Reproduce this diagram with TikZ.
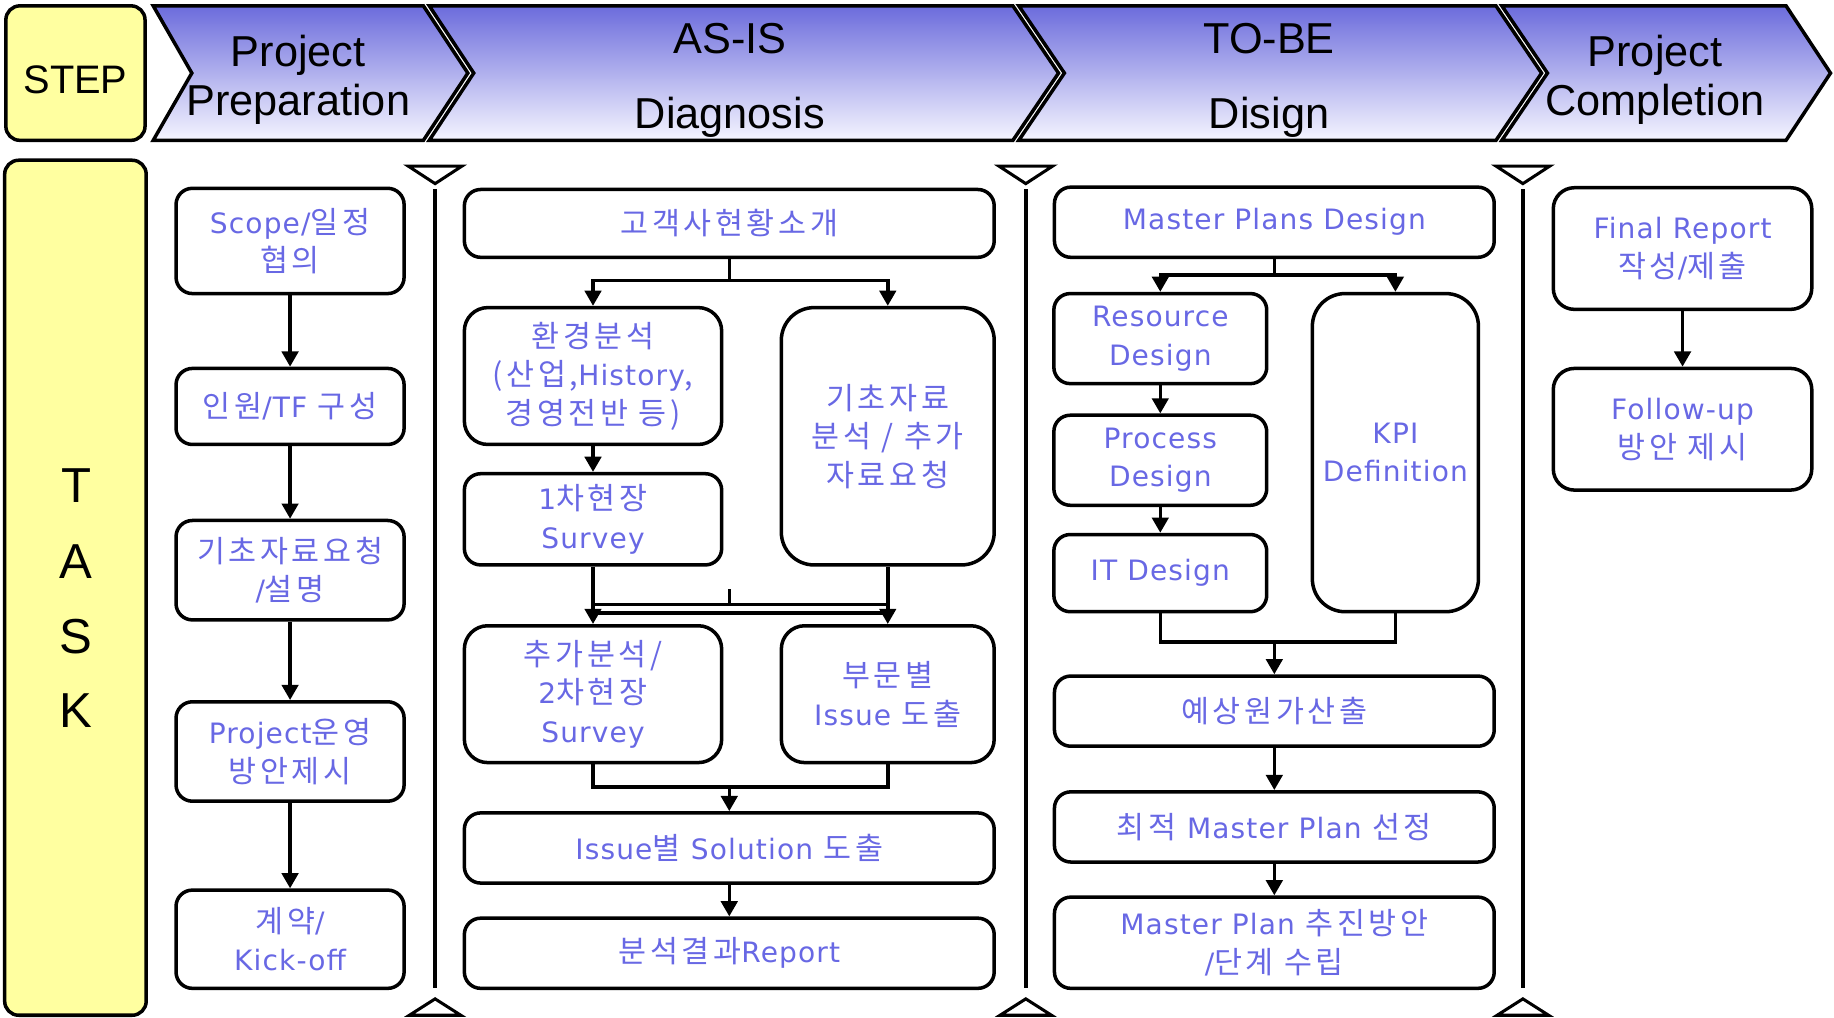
\documentclass[tikz,border=0pt]{standalone}
\usepackage{fontspec}
\setmainfont{Liberation Sans}
\newfontfamily\krf[LetterSpace=12]{Noto Sans CJK KR}
\newfontfamily\ltf[LetterSpace=4]{DejaVu Sans}
\newcommand{\lt}[1]{{\ltf\fontsize{12}{16.5}\selectfont #1}}
\usetikzlibrary{arrows.meta}
\definecolor{txtblue}{RGB}{104,104,228}
\definecolor{hdrtop}{RGB}{108,108,220}
\definecolor{hdrbot}{RGB}{245,245,255}
\definecolor{ylw}{RGB}{255,255,160}
\begin{document}
\begin{tikzpicture}[x=0.5pt,y=-0.5pt,
  box/.style={draw, line width=1.5pt, rounded corners=7pt, align=center, text=txtblue, inner sep=0pt, font=\krf\fontsize{13}{16.5}\selectfont},
  boxl/.style={box, font=\ltf\fontsize{12}{16.5}\selectfont},
  arr/.style={line width=1.5pt, -{Triangle[width=7pt,length=6.5pt]}},
  ln/.style={line width=1.5pt},
  hdr/.style={draw, line width=1.5pt, top color=hdrtop, bottom color=hdrbot},
  hdrtxt/.style={font=\fontsize{18.5}{22}\selectfont, inner sep=0pt, anchor=base},
  tasktxt/.style={font=\fontsize{21}{24}\selectfont, inner sep=0pt, anchor=base},
  sepline/.style={line width=1.5pt},
  septri/.style={line width=1.3pt, fill=white},
  side/.style={draw, line width=1.5pt, fill=ylw, rounded corners=6pt, inner sep=0pt}
]
\useasboundingbox (0,0) rectangle (1568,870);

% ---------- header ----------
\node[side, minimum width=59.5pt, minimum height=57.5pt] (stepbox) at (64.5,62.5) {};
\node[font=\fontsize{17}{20}\selectfont, inner sep=0pt] (steptxt) at (64.5,68) {STEP};

\path[hdr] (131,5) -- (362,5) -- (400,62.5) -- (362,120) -- (131,120) -- (164,62.5) -- cycle;
\path[hdr] (367,5) -- (866,5) -- (905,62.5) -- (866,120) -- (367,120) -- (405,62.5) -- cycle;
\path[hdr] (871,5) -- (1279,5) -- (1318,62.5) -- (1279,120) -- (871,120) -- (910,62.5) -- cycle;
\path[hdr] (1284,5) -- (1527,5) -- (1565,62.5) -- (1527,120) -- (1284,120) -- (1323,62.5) -- cycle;

\node[hdrtxt] (h1a) at (255,57) {Project};
\node[hdrtxt] (h1b) at (255,99) {Preparation};
\node[hdrtxt] (h2a) at (624,46) {AS-IS};
\node[hdrtxt] (h2b) at (624,110) {Diagnosis};
\node[hdrtxt] (h3a) at (1085,46) {TO-BE};
\node[hdrtxt] (h3b) at (1085,110) {Disign};
\node[hdrtxt] (h4a) at (1415,57) {Project};
\node[hdrtxt] (h4b) at (1415,99) {Completion};

% ---------- task side ----------
\node[side, minimum width=60.5pt, minimum height=365.5pt] (taskbox) at (64.5,502.5) {};
\node[tasktxt] (tT) at (65,430) {T};
\node[tasktxt] (tA) at (65,495) {A};
\node[tasktxt] (tS) at (65,559) {S};
\node[tasktxt] (tK) at (65,622) {K};

% ---------- separators ----------
\foreach \sx in {372,877,1302} {
  \draw[septri] (\sx-23,142) -- (\sx+23,142) -- (\sx,157) -- cycle;
  \draw[sepline] (\sx,162) -- (\sx,845);
  \draw[septri] (\sx,854) -- (\sx+22,868) -- (\sx-22,868) -- cycle;
}

% ---------- column 1 ----------
\node[box, minimum width=97.5pt, minimum height=45pt] (c1a) at (248,206) {\lt{Scope/}일정\\협의};
\node[box, minimum width=97.5pt, minimum height=32.5pt] (c1b) at (248,347.5) {인원\lt{/TF} 구성};
\node[box, minimum width=97.5pt, minimum height=42.5pt] (c1c) at (248,487.5) {기초자료요청\\\lt{/}설명};
\node[box, minimum width=97.5pt, minimum height=42.5pt] (c1d) at (248,642.5) {\lt{Project}운영\\방안제시};
\node[box, minimum width=97.5pt, minimum height=42pt] (c1e) at (248,803) {계약\lt{/}\\\lt{Kick-off}};
\draw[arr] (c1a) -- (c1b);
\draw[arr] (c1b) -- (c1c);
\draw[arr] (c1c) -- (c1d);
\draw[arr] (c1d) -- (c1e);

% ---------- column 2 ----------
\node[box, minimum width=226.5pt, minimum height=29pt] (c2a) at (623.5,191) {고객사현황소개};
\node[box, minimum width=110pt, minimum height=58.5pt, rounded corners=10pt] (c2b) at (507,321.5) {환경분석\\(산업,\lt{History},\\경영전반 등)};
\node[box, minimum width=91pt, minimum height=110pt, rounded corners=14pt] (c2c) at (759,373) {기초자료\\분석 / 추가\\자료요청};
\node[box, minimum width=110pt, minimum height=39pt] (c2d) at (507,444) {\lt{1}차현장\\\lt{Survey}};
\node[box, minimum width=110pt, minimum height=58.5pt, rounded corners=10pt] (c2e) at (507,593.5) {추가분석/\\\lt{2}차현장\\\lt{Survey}};
\node[box, minimum width=91pt, minimum height=58.5pt, rounded corners=10pt] (c2f) at (759,593.5) {부문별\\\lt{Issue} 도출};
\node[box, minimum width=226.5pt, minimum height=30pt] (c2g) at (623.5,725) {\lt{Issue}별 \lt{Solution} 도출};
\node[box, minimum width=226.5pt, minimum height=30pt] (c2h) at (623.5,815) {분석결과\lt{Report}};

\coordinate (j2a) at (623.5,240);
\draw[ln] (c2a.south) -- (j2a);
\draw[arr] (j2a) -| (c2b.north);
\draw[arr] (j2a) -| (c2c.north);
\draw[arr] (c2b) -- (c2d);
\coordinate (j2b) at (623.5,517);
\coordinate (j2c) at (623.5,524);
\coordinate (j2t) at (623.5,504);
\draw[arr] (c2d.south) -- (c2e.north);
\draw[arr] (c2c.south) -- (c2f.north);
\draw[ln] (c2d.south |- j2b) -- (c2c.south |- j2b);
\draw[ln] (c2d.south |- j2c) -- (c2c.south |- j2c);
\draw[ln] (j2t) -- (j2b);
\coordinate (j2d) at (623.5,673);
\draw[ln] (c2e.south) |- (j2d) -| (c2f.south);
\draw[arr] (j2d) -- (c2g.north);
\draw[arr] (c2g) -- (c2h);

% ---------- column 3 ----------
\node[boxl, minimum width=188pt, minimum height=30pt] (c3a) at (1089.5,190) {Master Plans Design};
\node[boxl, minimum width=91pt, minimum height=38.5pt] (c3b) at (992,289.5) {Resource\\Design};
\node[boxl, minimum width=91pt, minimum height=38.5pt] (c3c) at (992,393.5) {Process\\Design};
\node[boxl, minimum width=91pt, minimum height=33pt] (c3d) at (992,490) {IT Design};
\node[boxl, minimum width=71pt, minimum height=136pt, rounded corners=14pt] (c3e) at (1193,387) {KPI\\Definition};
\node[box, minimum width=188pt, minimum height=30pt] (c3f) at (1089.5,608) {예상원가산출};
\node[box, minimum width=188pt, minimum height=30pt] (c3g) at (1089.5,707) {최적 \lt{Master Plan} 선정};
\node[box, minimum width=188pt, minimum height=39pt] (c3h) at (1089.5,806) {\lt{Master Plan} 추진방안\\\lt{/}단계 수립};

\coordinate (j3a) at (1089.5,235);
\draw[ln] (c3a.south) -- (j3a);
\draw[arr] (j3a) -| (c3b.north);
\draw[arr] (j3a) -| (c3e.north);
\draw[arr] (c3b) -- (c3c);
\draw[arr] (c3c) -- (c3d);
\coordinate (j3b) at (1089.5,549);
\draw[ln] (c3d.south) |- (j3b) -| (c3e.south);
\draw[arr] (j3b) -- (c3f.north);
\draw[arr] (c3f) -- (c3g);
\draw[arr] (c3g) -- (c3h);

% ---------- column 4 ----------
\node[box, minimum width=110.5pt, minimum height=52pt, rounded corners=9pt] (c4a) at (1438.5,212.5) {\lt{Final Report}\\작성\lt{/}제출};
\node[box, minimum width=110.5pt, minimum height=52pt, rounded corners=9pt] (c4b) at (1438.5,367) {\lt{Follow-up}\\방안 제시};
\draw[arr] (c4a) -- (c4b);
\end{tikzpicture}
\end{document}
